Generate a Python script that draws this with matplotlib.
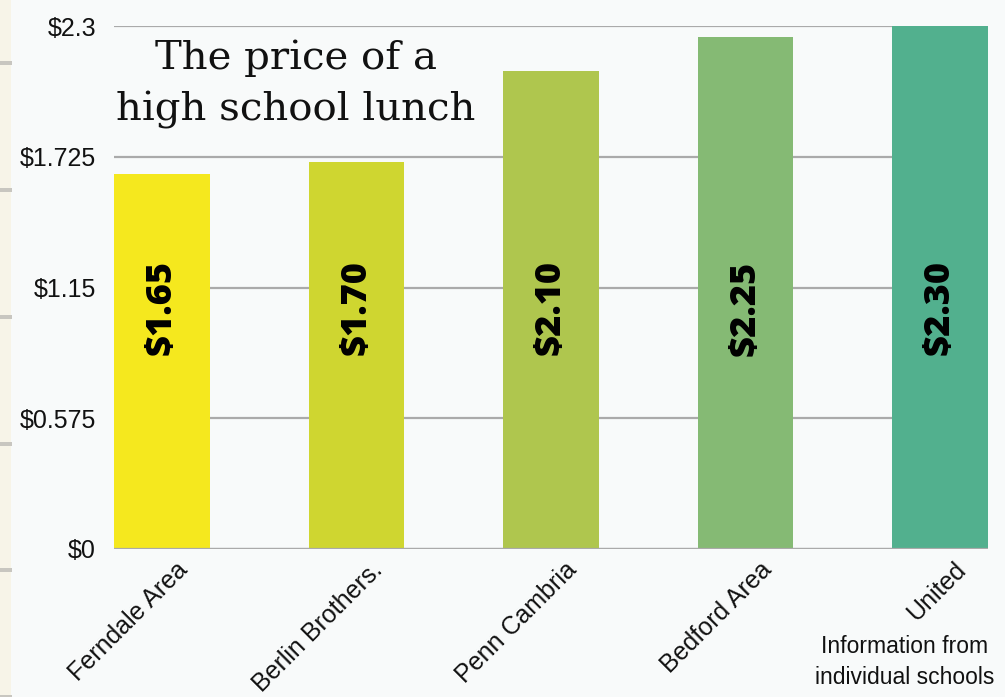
import matplotlib
matplotlib.use("Agg")
import matplotlib.pyplot as plt
from matplotlib.patches import Rectangle

schools = ["Ferndale Area", "Berlin Brothers.", "Penn Cambria", "Bedford Area", "United"]
prices = [1.65, 1.70, 2.10, 2.25, 2.30]
price_labels = ["$1.65", "$1.70", "$2.10", "$2.25", "$2.30"]
bar_colors = ["#f5e81e", "#cfd630", "#afc64e", "#85ba74", "#52b08e"]
yticks = [0, 0.575, 1.15, 1.725, 2.3]
ytick_labels = ["$0", "$0.575", "$1.15", "$1.725", "$2.3"]

bg = "#f8fafa"
fig = plt.figure(figsize=(10.05, 6.97), dpi=100, facecolor=bg)

# left decorative strip
fig.patches.append(Rectangle((0, 0), 11/1005, 1, transform=fig.transFigure,
                             facecolor="#f7f4e8", edgecolor="none", zorder=0))
for ypix in [63, 190, 317, 444, 570, 697]:
    fig.patches.append(Rectangle((0, 1 - (ypix + 2)/697), 12/1005, 4/697,
                                 transform=fig.transFigure, facecolor="#c8c6c0",
                                 edgecolor="none", zorder=1))

ax = fig.add_axes([114/1005, 1 - 549/697, 874/1005, (549 - 26)/697])
ax.set_facecolor(bg)
w = 0.493
x = list(range(len(schools)))
ax.bar(x, prices, width=w, color=bar_colors, zorder=3)
ax.set_xlim(-w/2, len(schools) - 1 + w/2)
ax.set_ylim(0, 2.3)
ax.set_yticks(yticks)
ax.set_yticklabels(ytick_labels, fontsize=18, family="Liberation Sans", color="#111111")
ax.tick_params(axis="y", length=0, pad=13)
ax.tick_params(axis="x", length=0)
ax.set_xticks([])
ax.grid(axis="y", color="#aaaaaa", linewidth=1.6, zorder=0)
for s in ax.spines.values():
    s.set_visible(False)
ax.axhline(0, color="#aaaaaa", linewidth=1.6, zorder=4)

for xi, lab in zip(x, price_labels):
    ax.text(xi, 1.06, lab, rotation=90, ha="center", va="center",
            fontsize=26, fontweight=800, family="Open Sans", color="black", zorder=5)

for xi, name in zip(x, schools):
    ax.annotate(name, xy=(xi, 0), xytext=(10, -6), textcoords="offset points",
                rotation=45, ha="right", va="top", rotation_mode="anchor",
                fontsize=18, family="Liberation Sans", color="#111111",
                annotation_clip=False)

fig.text(296/1005, 1 - 84/697, "The price of a\nhigh school lunch", ha="center", va="center",
         fontsize=29, family="DejaVu Serif", color="#111111", linespacing=1.48)

fig.text(905/1005, 1 - 662/697, "Information from\nindividual schools", ha="center", va="center",
         fontsize=16.5, family="Liberation Sans", color="#111111", linespacing=1.4)

fig.savefig("out.png", dpi=100, facecolor=bg)
